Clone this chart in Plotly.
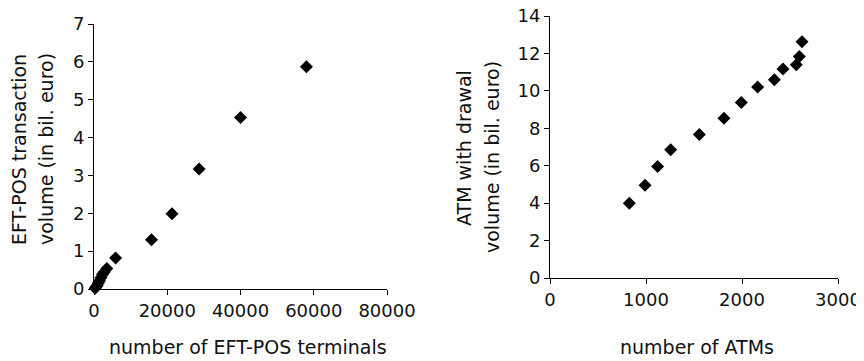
import plotly.graph_objects as go

# Left panel: EFT-POS terminals vs transaction volume
eft_terminals = [300, 600, 900, 1200, 1500, 1900, 2300, 2800, 3500, 5900, 15700, 21300, 28700, 40000, 58000]
eft_volume = [0.02, 0.06, 0.10, 0.16, 0.22, 0.30, 0.38, 0.45, 0.54, 0.82, 1.30, 1.99, 3.17, 4.53, 5.87]

# Right panel: ATMs vs withdrawal volume
atm_count = [826, 990, 1121, 1257, 1556, 1812, 1993, 2163, 2337, 2427, 2566, 2597, 2625]
atm_volume = [3.99, 4.96, 5.96, 6.85, 7.67, 8.54, 9.38, 10.2, 10.59, 11.17, 11.4, 11.83, 12.63]

left_xticks = [0, 20000, 40000, 60000, 80000]
left_yticks = [0, 1, 2, 3, 4, 5, 6, 7]
right_xticks = [0, 1000, 2000, 3000]
right_yticks = [0, 2, 4, 6, 8, 10, 12, 14]

FONT = "DejaVu Sans"
W, H = 856, 353  # page has 8px body margin in an 864x361 window
marker = dict(symbol="diamond", size=10, color="black")

fig = go.Figure()
fig.add_trace(go.Scatter(x=eft_terminals, y=eft_volume, mode="markers", marker=marker,
                         xaxis="x", yaxis="y", showlegend=False, cliponaxis=False))
fig.add_trace(go.Scatter(x=atm_count, y=atm_volume, mode="markers", marker=marker,
                         xaxis="x2", yaxis="y2", showlegend=False, cliponaxis=False))

axis_common = dict(showgrid=False, zeroline=False, showline=True, linecolor="black", linewidth=1,
                   ticks="outside", ticklen=5, tickcolor="black", automargin=False,
                   ticklabeloverflow="allow",
                   tickfont=dict(family=FONT, size=18, color="#111"))


def ann(text, cx, cy, angle=0):
    return dict(text=text, xref="paper", yref="paper", x=cx / W, y=1 - cy / H,
                xanchor="center", yanchor="middle", showarrow=False, textangle=angle,
                font=dict(family=FONT, size=19, color="#111"))


fig.update_layout(
    width=W, height=H,
    margin=dict(l=0, r=0, t=0, b=0, autoexpand=False),
    paper_bgcolor="white", plot_bgcolor="white",
    font=dict(family=FONT, size=18, color="#111"),
    xaxis=dict(domain=[86 / W, 379 / W], range=[0, 80000], tickvals=left_xticks,
               ticktext=[str(v) for v in left_xticks], anchor="y", **axis_common),
    yaxis=dict(domain=[1 - 281 / H, 1 - 16 / H], range=[0, 7], tickvals=left_yticks,
               ticktext=[str(v) for v in left_yticks], anchor="x", **axis_common),
    xaxis2=dict(domain=[542 / W, 830 / W], range=[0, 3000], tickvals=right_xticks,
                ticktext=[str(v) for v in right_xticks], anchor="y2", **axis_common),
    yaxis2=dict(domain=[1 - 270 / H, 1 - 8 / H], range=[0, 14], tickvals=right_yticks,
                ticktext=[str(v) for v in right_yticks], anchor="x2", **axis_common),
    annotations=[
        ann("number of EFT-POS terminals", 240, 339),
        ann("EFT-POS transaction", 11, 142, -90),
        ann("volume (in bil. euro)", 38, 141, -90),
        ann("number of ATMs", 689, 339),
        ann("ATM with drawal", 456, 140, -90),
        ann("volume (in bil. euro)", 484, 149, -90),
    ],
)

fig.write_html("out.html")
